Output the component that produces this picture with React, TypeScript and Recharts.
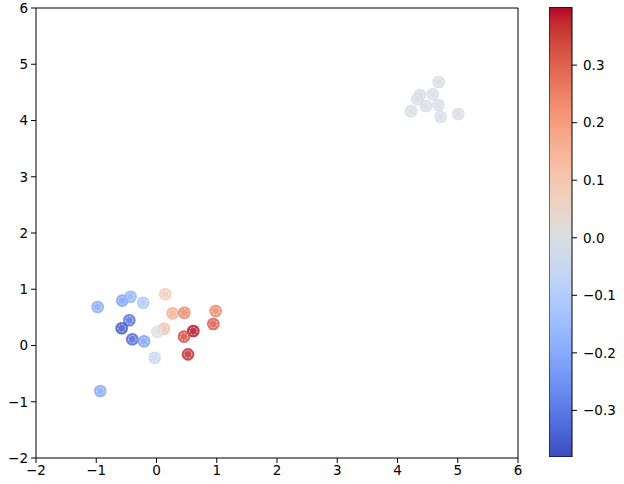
import React from 'react';
import {
  ScatterChart,
  Scatter,
  XAxis,
  YAxis,
  BarChart,
  Bar,
} from 'recharts';

// point positions and colour values
const xs = [
  -0.976, -0.568, -0.43, -0.219, 0.146, 0.268, 0.462, 0.982, -0.451, -0.578,
  0.943, 0.124, 0.013, 0.611, 0.456, -0.402, -0.207, -0.03, 0.523, -0.933,
  4.684, 4.373, 4.584, 4.329, 4.473, 4.678, 4.224, 4.717, 5.009,
];
const ys = [
  0.684, 0.797, 0.868, 0.761, 0.91, 0.572, 0.583, 0.613, 0.448, 0.306,
  0.382, 0.299, 0.245, 0.258, 0.157, 0.11, 0.075, -0.217, -0.157, -0.809,
  4.684, 4.453, 4.466, 4.377, 4.258, 4.276, 4.164, 4.068, 4.116,
];
const vals = [
  -0.2, -0.22, -0.18, -0.12, 0.08, 0.17, 0.24, 0.24, -0.31, -0.36,
  0.31, 0.12, 0.01, 0.39, 0.33, -0.33, -0.22, -0.06, 0.37, -0.2,
  -0.01, -0.01, -0.01, -0.01, -0.01, -0.01, -0.01, -0.01, -0.01,
];

const axisTicks = [-2, -1, 0, 1, 2, 3, 4, 5, 6];
const cbarTicks = [-0.3, -0.2, -0.1, 0.0, 0.1, 0.2, 0.3];
const vmin = -0.381;
const vmax = 0.401;

// matplotlib coolwarm
const coolwarm: number[][] = [
  [59, 76, 192], [68, 90, 204], [77, 104, 215], [87, 117, 225], [98, 130, 234],
  [108, 142, 241], [119, 154, 247], [130, 165, 251], [141, 176, 254], [152, 185, 255],
  [163, 194, 255], [174, 201, 253], [184, 208, 249], [194, 213, 244], [204, 217, 238],
  [213, 219, 230], [221, 221, 221], [229, 216, 209], [236, 211, 197], [241, 204, 185],
  [245, 196, 173], [247, 187, 160], [247, 177, 148], [247, 166, 135], [244, 154, 123],
  [241, 141, 111], [236, 127, 99], [229, 112, 88], [222, 96, 77], [213, 80, 66],
  [203, 62, 56], [192, 40, 47], [180, 4, 38],
];

function cmap(t: number) {
  const c = Math.max(0, Math.min(1, t)) * (coolwarm.length - 1);
  const i = Math.min(Math.floor(c), coolwarm.length - 2);
  const f = c - i;
  const a = coolwarm[i];
  const b = coolwarm[i + 1];
  const rgb = a.map((v, k) => Math.round(v + (b[k] - v) * f));
  return `rgb(${rgb[0]},${rgb[1]},${rgb[2]})`;
}

const points = xs.map((x, i) => ({
  x,
  y: ys[i],
  color: cmap((vals[i] - vmin) / (vmax - vmin)),
}));

// frame corners, only there so the top / right axes get a domain
const frame = [{ x: -2, y: -2 }, { x: 6, y: 6 }];
const cbarData = [{ name: 'cbar', range: [vmin, vmax] }];

const font = { fill: '#000', fontSize: 13.5, fontFamily: 'DejaVu Sans' };
const fmt = (v: number) => String(v).replace('-', '\u2212');
const fmt1 = (v: number) => v.toFixed(1).replace('-', '\u2212');

const Dot = (props: any) => {
  const { cx, cy, payload } = props;
  return (
    <g>
      <circle cx={cx} cy={cy} r={6.3} fill={payload.color} fillOpacity={0.85} />
      <circle
        cx={cx}
        cy={cy}
        r={3.8}
        fill="none"
        stroke="#fff"
        strokeOpacity={0.8}
        strokeWidth={0.9}
        strokeDasharray="2 1.4"
      />
    </g>
  );
};

const Nothing = () => <g />;

export default function App() {
  return (
    <div style={{ position: 'absolute', left: 0, top: 0, width: 624, height: 484, background: '#fff' }}>
      <div style={{ position: 'absolute', left: 0, top: 0 }}>
        <ScatterChart width={624} height={484} margin={{ top: 7, right: 105, bottom: 0, left: 0 }}>
          <XAxis
            type="number"
            dataKey="x"
            domain={[-2, 6]}
            ticks={axisTicks}
            interval={0}
            allowDataOverflow
            height={26}
            tickSize={5}
            tickMargin={2}
            stroke="#000"
            tick={font}
            tickFormatter={fmt}
          />
          <XAxis
            xAxisId="top"
            orientation="top"
            type="number"
            dataKey="x"
            domain={[-2, 6]}
            allowDataOverflow
            height={1}
            tick={false}
            tickLine={false}
            stroke="#000"
          />
          <YAxis
            type="number"
            dataKey="y"
            domain={[-2, 6]}
            ticks={axisTicks}
            interval={0}
            allowDataOverflow
            width={36}
            tickSize={5}
            tickMargin={3}
            stroke="#000"
            tick={font}
            tickFormatter={fmt}
          />
          <YAxis
            yAxisId="right"
            orientation="right"
            type="number"
            dataKey="y"
            domain={[-2, 6]}
            allowDataOverflow
            width={1}
            tick={false}
            tickLine={false}
            stroke="#000"
          />
          <Scatter
            data={frame}
            xAxisId="top"
            yAxisId="right"
            shape={Nothing}
            isAnimationActive={false}
          />
          <Scatter data={points} shape={Dot} isAnimationActive={false} />
        </ScatterChart>
      </div>
      <div style={{ position: 'absolute', left: 549, top: 0 }}>
        <BarChart
          width={75}
          height={484}
          data={cbarData}
          barCategoryGap={0}
          margin={{ top: 7, right: 0, bottom: 27, left: 0 }}
        >
          <defs>
            <linearGradient id="cbar" x1="0" y1="1" x2="0" y2="0">
              {coolwarm.map((c, i) => (
                <stop
                  key={i}
                  offset={i / (coolwarm.length - 1)}
                  stopColor={`rgb(${c[0]},${c[1]},${c[2]})`}
                />
              ))}
            </linearGradient>
          </defs>
          <XAxis dataKey="name" hide />
          <YAxis
            orientation="right"
            type="number"
            domain={[vmin, vmax]}
            ticks={cbarTicks}
            interval={0}
            allowDataOverflow
            width={52}
            axisLine={false}
            tickSize={5}
            tickMargin={6}
            stroke="#000"
            tick={font}
            tickFormatter={fmt1}
          />
          <Bar
            dataKey="range"
            fill="url(#cbar)"
            stroke="#000"
            strokeWidth={1}
            isAnimationActive={false}
          />
        </BarChart>
      </div>
    </div>
  );
}
